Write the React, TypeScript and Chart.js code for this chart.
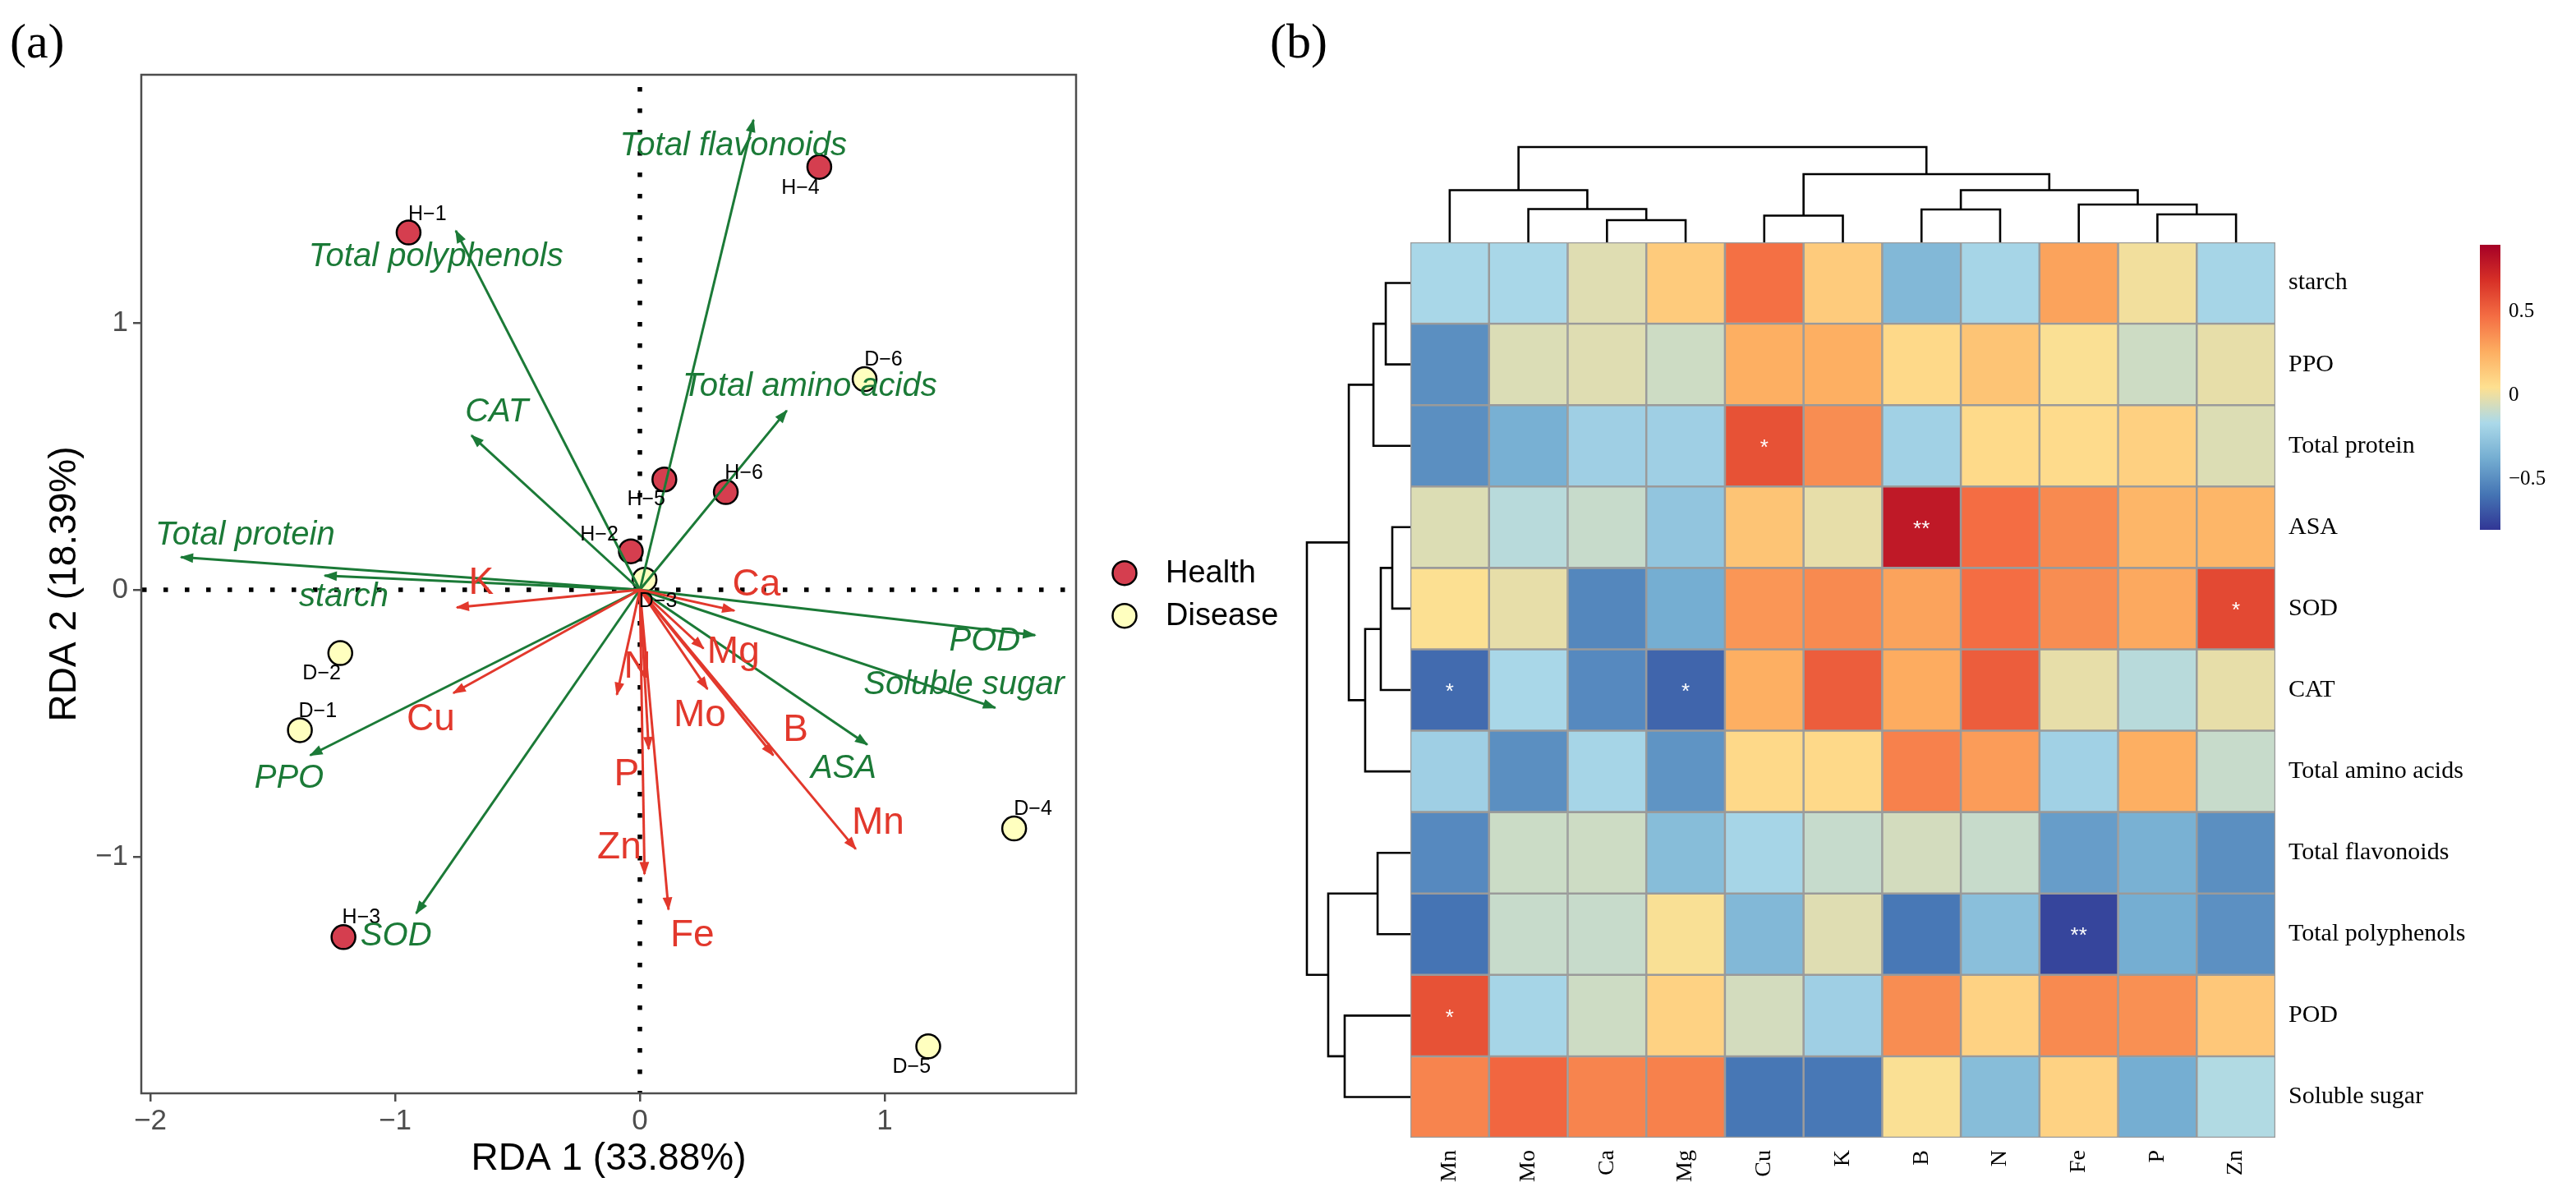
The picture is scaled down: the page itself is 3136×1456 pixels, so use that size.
import React, { useEffect, useRef } from 'react';
import { Chart, registerables } from 'chart.js';

Chart.register(...registerables);

// ---------------- Panel (a): RDA biplot ----------------
const rdaXRange = [-2.037, 1.782];
const rdaYRange = [-1.886, 1.929];
const rdaXTicks = [-2, -1, 0, 1];
const rdaYTicks = [-1, 0, 1];
const rdaXTitle = 'RDA 1 (33.88%)';
const rdaYTitle = 'RDA 2 (18.39%)';

const healthNames = ['H−1', 'H−2', 'H−3', 'H−4', 'H−5', 'H−6'];
const healthX = [-0.945, -0.037, -1.211, 0.733, 0.1, 0.351];
const healthY = [1.338, 0.144, -1.301, 1.584, 0.413, 0.366];
const healthLabelX = [-0.868, -0.166, -1.138, 0.656, 0.026, 0.425];
const healthLabelY = [1.407, 0.207, -1.228, 1.503, 0.337, 0.438];

const diseaseNames = ['D−1', 'D−2', 'D−3', 'D−4', 'D−5', 'D−6'];
const diseaseX = [-1.389, -1.224, 0.019, 1.529, 1.178, 0.918];
const diseaseY = [-0.526, -0.237, 0.038, -0.894, -1.71, 0.789];
const diseaseLabelX = [-1.316, -1.3, 0.074, 1.606, 1.11, 0.995];
const diseaseLabelY = [-0.455, -0.313, -0.043, -0.823, -1.789, 0.862];

const qualityNames = ['Total flavonoids', 'Total polyphenols', 'Total amino acids', 'CAT', 'Total protein', 'starch', 'PPO', 'SOD', 'POD', 'Soluble sugar', 'ASA'];
const qualityX = [0.464, -0.752, 0.6, -0.688, -1.875, -1.288, -1.347, -0.914, 1.615, 1.452, 0.929];
const qualityY = [1.76, 1.345, 0.671, 0.578, 0.122, 0.053, -0.62, -1.212, -0.17, -0.442, -0.58];
const qualityLabelX = [0.382, -0.833, 0.694, -0.585, -1.613, -1.21, -1.433, -0.996, 1.409, 1.324, 0.832];
const qualityLabelY = [1.661, 1.246, 0.759, 0.664, 0.204, -0.028, -0.708, -1.297, -0.194, -0.357, -0.669];

const elementNames = ['K', 'Ca', 'Cu', 'N', 'Mg', 'Mo', 'B', 'Mn', 'P', 'Zn', 'Fe'];
const elementX = [-0.748, 0.386, -0.762, -0.094, 0.26, 0.276, 0.545, 0.882, 0.036, 0.019, 0.117];
const elementY = [-0.066, -0.078, -0.387, -0.393, -0.22, -0.372, -0.62, -0.971, -0.597, -1.065, -1.198];
const elementLabelX = [-0.648, 0.476, -0.854, -0.01, 0.382, 0.245, 0.636, 0.973, -0.054, -0.084, 0.214];
const elementLabelY = [0.024, 0.016, -0.486, -0.29, -0.234, -0.471, -0.526, -0.876, -0.694, -0.968, -1.297];

const groupNames = ['Health', 'Disease'];

// ---------------- Panel (b): correlation heatmap ----------------
const heatCols = ['Mn', 'Mo', 'Ca', 'Mg', 'Cu', 'K', 'B', 'N', 'Fe', 'P', 'Zn'];
const heatRows = ['starch', 'PPO', 'Total protein', 'ASA', 'SOD', 'CAT', 'Total amino acids', 'Total flavonoids', 'Total polyphenols', 'POD', 'Soluble sugar'];

const corStarch = [-0.17, -0.17, -0.03, 0.14, 0.465, 0.14, -0.32, -0.18, 0.3, 0.02, -0.18];
const corPPO = [-0.49, -0.04, -0.03, -0.075, 0.26, 0.26, 0.08, 0.17, 0.04, -0.075, -0.01];
const corTotalProtein = [-0.49, -0.36, -0.21, -0.21, 0.57, 0.37, -0.2, 0.075, 0.07, 0.12, -0.037];
const corASA = [-0.037, -0.13, -0.09, -0.26, 0.17, -0.01, 0.79, 0.475, 0.38, 0.23, 0.23];
const corSOD = [0.045, -0.01, -0.52, -0.37, 0.34, 0.38, 0.3, 0.475, 0.37, 0.28, 0.6];
const corCAT = [-0.62, -0.17, -0.51, -0.64, 0.26, 0.53, 0.27, 0.53, -0.01, -0.13, -0.01];
const corAminoAcids = [-0.21, -0.49, -0.18, -0.47, 0.08, 0.08, 0.41, 0.32, -0.2, 0.26, -0.09];
const corFlavonoids = [-0.51, -0.08, -0.075, -0.3, -0.18, -0.094, -0.06, -0.09, -0.435, -0.355, -0.49];
const corPolyphenols = [-0.59, -0.09, -0.09, 0.037, -0.32, -0.03, -0.575, -0.29, -0.75, -0.37, -0.485];
const corPOD = [0.57, -0.18, -0.075, 0.11, -0.06, -0.21, 0.37, 0.11, 0.38, 0.36, 0.155];
const corSolubleSugar = [0.4, 0.5, 0.4, 0.41, -0.58, -0.575, 0.04, -0.3, 0.11, -0.37, -0.147];
const heatValues = [corStarch, corPPO, corTotalProtein, corASA, corSOD, corCAT, corAminoAcids, corFlavonoids, corPolyphenols, corPOD, corSolubleSugar];

const sigRows = ['Total protein', 'ASA', 'SOD', 'CAT', 'CAT', 'Total polyphenols', 'POD'];
const sigCols = ['Cu', 'B', 'Zn', 'Mn', 'Mg', 'Fe', 'Mn'];
const sigMarks = ['*', '**', '*', '*', '*', '**', '*'];

// hclust-style merges (negative = leaf index+1, positive = earlier merge number)
const colMergeA = [-3, -10, -5, -7, -2, -9, -1, 4, 3, 7];
const colMergeB = [-4, -11, -6, -8, 1, 2, 5, 6, 8, 9];
const colMergeHeight = [0.233, 0.293, 0.28, 0.345, 0.349, 0.397, 0.547, 0.547, 0.716, 1.0];
const rowMergeA = [-1, -4, -8, 1, 2, -10, 5, 4, 3, 8];
const rowMergeB = [-2, -5, -9, -3, -6, -11, -7, 7, 6, 9];
const rowMergeHeight = [0.238, 0.175, 0.317, 0.357, 0.286, 0.635, 0.437, 0.595, 0.794, 1.0];

const colorMin = -0.8;
const colorMax = 0.9;
const colorbarTicks = [0.5, 0, -0.5];

// ---------------- styles ----------------
const SANS = '"Liberation Sans", Arial, Helvetica, sans-serif';
const SERIF = '"Liberation Serif", "Times New Roman", Times, serif';
const GREEN = '#1B7A37';
const RED = '#E2382C';
const HEALTH_FILL = '#D53E4F';
const DISEASE_FILL = '#FFFFBF';
const palette = ['#313695', '#4575B4', '#74ADD1', '#ABD9E9', '#FEE090', '#FDAE61', '#F46D43', '#D73027', '#A50026'];

const fmt = (v: number) => (v < 0 ? '−' + Math.abs(v) : String(v));

function hexToRgb(h: string) {
  const n = parseInt(h.slice(1), 16);
  return [(n >> 16) & 255, (n >> 8) & 255, n & 255];
}
function valueToColor(v: number) {
  const n = palette.length - 1;
  let t = ((v - colorMin) / (colorMax - colorMin)) * n;
  t = Math.max(0, Math.min(n, t));
  const i = Math.min(n - 1, Math.floor(t));
  const f = t - i;
  const a = hexToRgb(palette[i]);
  const b = hexToRgb(palette[i + 1]);
  const c = a.map((x, k) => Math.round(x + (b[k] - x) * f));
  return `rgb(${c[0]},${c[1]},${c[2]})`;
}

// ---------------- plugins ----------------
const rdaPlugin = {
  id: 'rdaDecor',
  beforeDatasetsDraw(chart: any) {
    const { ctx, chartArea: a, scales } = chart;
    const x0 = scales.x.getPixelForValue(0);
    const y0 = scales.y.getPixelForValue(0);
    ctx.save();
    ctx.beginPath();
    ctx.rect(a.left, a.top, a.right - a.left, a.bottom - a.top);
    ctx.clip();
    ctx.strokeStyle = '#000';
    ctx.lineWidth = 5.5;
    ctx.setLineDash([5.5, 20.5]);
    ctx.beginPath();
    ctx.moveTo(x0, a.top + 15);
    ctx.lineTo(x0, a.bottom);
    ctx.stroke();
    ctx.beginPath();
    ctx.moveTo(a.left + 1, y0);
    ctx.lineTo(a.right, y0);
    ctx.stroke();
    ctx.restore();
  },
  afterDatasetsDraw(chart: any) {
    const { ctx, scales } = chart;
    const X = (v: number) => scales.x.getPixelForValue(v);
    const Y = (v: number) => scales.y.getPixelForValue(v);
    ctx.save();
    chart.data.datasets.forEach((ds: any, i: number) => {
      if (!ds.isArrow) return;
      const meta = chart.getDatasetMeta(i);
      const p0 = meta.data[0];
      const p1 = meta.data[1];
      const ang = Math.atan2(p1.y - p0.y, p1.x - p0.x);
      const L = 16;
      const W = 0.38;
      ctx.fillStyle = ds.borderColor;
      ctx.beginPath();
      ctx.moveTo(p1.x + 1.5 * Math.cos(ang), p1.y + 1.5 * Math.sin(ang));
      ctx.lineTo(p1.x - L * Math.cos(ang - W), p1.y - L * Math.sin(ang - W));
      ctx.lineTo(p1.x - L * Math.cos(ang + W), p1.y - L * Math.sin(ang + W));
      ctx.closePath();
      ctx.fill();
    });
    ctx.textAlign = 'center';
    ctx.textBaseline = 'middle';
    ctx.fillStyle = '#000';
    ctx.font = `25px ${SANS}`;
    healthNames.forEach((n, i) => ctx.fillText(n, X(healthLabelX[i]), Y(healthLabelY[i])));
    diseaseNames.forEach((n, i) => ctx.fillText(n, X(diseaseLabelX[i]), Y(diseaseLabelY[i])));
    ctx.fillStyle = GREEN;
    ctx.font = `italic 40px ${SANS}`;
    qualityNames.forEach((n, i) => ctx.fillText(n, X(qualityLabelX[i]), Y(qualityLabelY[i])));
    ctx.fillStyle = RED;
    ctx.font = `46px ${SANS}`;
    elementNames.forEach((n, i) => ctx.fillText(n, X(elementLabelX[i]), Y(elementLabelY[i])));
    ctx.restore();
  },
  afterDraw(chart: any) {
    const { ctx, chartArea: a } = chart;
    ctx.save();
    ctx.strokeStyle = '#4D4D4D';
    ctx.lineWidth = 2.5;
    ctx.strokeRect(a.left, a.top, a.right - a.left, a.bottom - a.top);
    // legend
    const lx = a.right + 59;
    const ly = (a.top + a.bottom) / 2 + 12.7;
    const fills = [HEALTH_FILL, DISEASE_FILL];
    groupNames.forEach((g, i) => {
      const cy = ly + (i === 0 ? -26 : 26);
      ctx.beginPath();
      ctx.arc(lx, cy, 14.5, 0, Math.PI * 2);
      ctx.fillStyle = fills[i];
      ctx.fill();
      ctx.lineWidth = 2.5;
      ctx.strokeStyle = '#000';
      ctx.stroke();
      ctx.fillStyle = '#000';
      ctx.font = `38px ${SANS}`;
      ctx.textAlign = 'left';
      ctx.textBaseline = 'middle';
      ctx.fillText(g, lx + 50, cy + 1);
    });
    ctx.restore();
  },
};

function drawTree(ctx: any, A: number[], B: number[], H: number[], leafPos: (i: number) => number, hPx: (h: number) => number, vertical: boolean) {
  const pos: number[] = [];
  const hts: number[] = [];
  const get = (c: number) => (c < 0 ? { p: leafPos(-c - 1), h: 0 } : { p: pos[c - 1], h: hts[c - 1] });
  ctx.beginPath();
  for (let k = 0; k < A.length; k++) {
    const a = get(A[k]);
    const b = get(B[k]);
    const h = H[k];
    pos[k] = (a.p + b.p) / 2;
    hts[k] = h;
    if (vertical) {
      ctx.moveTo(a.p, hPx(a.h));
      ctx.lineTo(a.p, hPx(h));
      ctx.lineTo(b.p, hPx(h));
      ctx.lineTo(b.p, hPx(b.h));
    } else {
      ctx.moveTo(hPx(a.h), a.p);
      ctx.lineTo(hPx(h), a.p);
      ctx.lineTo(hPx(h), b.p);
      ctx.lineTo(hPx(b.h), b.p);
    }
  }
  ctx.stroke();
}

const heatPlugin = {
  id: 'heatDecor',
  afterDraw(chart: any) {
    const { ctx, chartArea: a, scales } = chart;
    const xs = scales.x;
    const ys = scales.y;
    ctx.save();
    // significance marks
    ctx.fillStyle = '#fff';
    ctx.font = `26px ${SANS}`;
    ctx.textAlign = 'center';
    ctx.textBaseline = 'middle';
    sigMarks.forEach((m, i) => {
      const c = heatCols.indexOf(sigCols[i]);
      const r = heatRows.indexOf(sigRows[i]);
      ctx.fillText(m, xs.getPixelForValue(c), ys.getPixelForValue(r + 0.5) + 3);
    });
    // dendrograms
    ctx.strokeStyle = '#000';
    ctx.lineWidth = 2.6;
    ctx.lineJoin = 'miter';
    const colTree = 116;
    const rowTree = 126;
    drawTree(ctx, colMergeA, colMergeB, colMergeHeight, (i) => xs.getPixelForValue(i), (h) => a.top - h * colTree, true);
    drawTree(ctx, rowMergeA, rowMergeB, rowMergeHeight, (i) => ys.getPixelForValue(i + 0.5), (h) => a.left - h * rowTree, false);
    // colour bar
    const cbX = a.right + 249;
    const cbY = a.top + 3;
    const cbW = 25;
    const cbH = 347;
    const grad = ctx.createLinearGradient(0, cbY + cbH, 0, cbY);
    palette.forEach((c, k) => grad.addColorStop(k / (palette.length - 1), c));
    ctx.fillStyle = grad;
    ctx.fillRect(cbX, cbY, cbW, cbH);
    ctx.fillStyle = '#000';
    ctx.font = `25px ${SERIF}`;
    ctx.textAlign = 'left';
    ctx.textBaseline = 'middle';
    colorbarTicks.forEach((v) => {
      const y = cbY + cbH - ((v - colorMin) / (colorMax - colorMin)) * cbH;
      ctx.fillText(fmt(v), cbX + cbW + 10, y);
    });
    ctx.restore();
  },
};

export default function App() {
  const refA = useRef<HTMLCanvasElement>(null);
  const refB = useRef<HTMLCanvasElement>(null);

  useEffect(() => {
    const pointDs = (label: string, xs: number[], ys: number[], fill: string) => ({
      label,
      data: xs.map((x, i) => ({ x, y: ys[i] })),
      pointRadius: 14.5,
      pointHoverRadius: 14.5,
      pointBackgroundColor: fill,
      pointBorderColor: '#000',
      pointBorderWidth: 2.5,
      showLine: false,
      order: 3,
    });
    const arrowDs = (label: string, x: number, y: number, color: string, order: number) => ({
      label,
      isArrow: true,
      data: [{ x: 0, y: 0 }, { x, y }],
      showLine: true,
      borderColor: color,
      borderWidth: 3,
      pointRadius: 0,
      pointHoverRadius: 0,
      order,
    });
    const datasetsA: any[] = [
      pointDs('Health', healthX, healthY, HEALTH_FILL),
      pointDs('Disease', diseaseX, diseaseY, DISEASE_FILL),
      ...qualityNames.map((n, i) => arrowDs(n, qualityX[i], qualityY[i], GREEN, 2)),
      ...elementNames.map((n, i) => arrowDs(n, elementX[i], elementY[i], RED, 1)),
    ];

    const tickFont = { family: SANS, size: 35 };
    const titleFont = { family: SANS, size: 46 };

    const chartA = new Chart(refA.current as HTMLCanvasElement, {
      type: 'scatter',
      data: { datasets: datasetsA },
      options: {
        animation: false,
        responsive: false,
        events: [],
        layout: { padding: { left: 0, top: 91, right: 310, bottom: 0 } },
        plugins: { legend: { display: false }, tooltip: { enabled: false } },
        scales: {
          x: {
            type: 'linear',
            min: rdaXRange[0],
            max: rdaXRange[1],
            afterBuildTicks: (ax: any) => {
              ax.ticks = rdaXTicks.map((v) => ({ value: v }));
            },
            afterFit: (s: any) => {
              s.height = 125;
            },
            grid: { drawOnChartArea: false, drawTicks: true, tickLength: 10, color: '#4D4D4D', lineWidth: 2.5 },
            border: { display: false },
            ticks: { font: tickFont, color: '#4D4D4D', padding: 3, autoSkip: false, callback: (v: any) => fmt(Number(v)) },
            title: { display: true, text: rdaXTitle, font: titleFont, color: '#000', padding: { top: 0, bottom: 17 } },
          },
          y: {
            type: 'linear',
            position: 'left',
            min: rdaYRange[0],
            max: rdaYRange[1],
            afterBuildTicks: (ax: any) => {
              ax.ticks = rdaYTicks.map((v) => ({ value: v }));
            },
            afterFit: (s: any) => {
              s.width = 172;
            },
            grid: { drawOnChartArea: false, drawTicks: true, tickLength: 10, color: '#4D4D4D', lineWidth: 2.5 },
            border: { display: false },
            ticks: { font: tickFont, color: '#4D4D4D', padding: 6, autoSkip: false, callback: (v: any) => fmt(Number(v)) },
            title: { display: true, text: rdaYTitle, font: titleFont, color: '#000', padding: { top: 52, bottom: 0 } },
          },
        },
      } as any,
      plugins: [rdaPlugin],
    });

    const datasetsB: any[] = heatRows.map((row, r) => ({
      label: row,
      data: heatCols.map(() => [r, r + 1]),
      backgroundColor: heatValues[r].map(valueToColor),
      borderColor: '#9A9A9A',
      borderWidth: 1.6,
      borderSkipped: false,
      barPercentage: 1,
      categoryPercentage: 1,
      grouped: false,
    }));

    const chartB = new Chart(refB.current as HTMLCanvasElement, {
      type: 'bar',
      data: { labels: heatCols, datasets: datasetsB },
      options: {
        animation: false,
        responsive: false,
        events: [],
        layout: { padding: { left: 217, top: 295, right: 0, bottom: 0 } },
        plugins: { legend: { display: false }, tooltip: { enabled: false } },
        scales: {
          x: {
            type: 'category',
            position: 'bottom',
            grid: { display: false },
            border: { display: false },
            ticks: { font: { family: SERIF, size: 28 }, color: '#000', minRotation: 90, maxRotation: 90, autoSkip: false, padding: 7 },
            afterFit: (s: any) => {
              s.height = 71;
            },
          },
          y: {
            type: 'linear',
            position: 'right',
            min: 0,
            max: heatRows.length,
            reverse: true,
            grid: { display: false },
            border: { display: false },
            afterBuildTicks: (ax: any) => {
              ax.ticks = heatRows.map((_, i) => ({ value: i + 0.5 }));
            },
            ticks: {
              font: { family: SERIF, size: 30 },
              color: '#000',
              padding: 8,
              autoSkip: false,
              callback: (v: any) => heatRows[Math.floor(Number(v))],
            },
            afterFit: (s: any) => {
              s.width = 366;
            },
          },
        },
      } as any,
      plugins: [heatPlugin],
    });

    return () => {
      chartA.destroy();
      chartB.destroy();
    };
  }, []);

  const panelLabel: React.CSSProperties = {
    position: 'absolute',
    top: 20,
    fontFamily: SERIF,
    fontSize: 60,
    lineHeight: '60px',
    color: '#000',
  };

  return (
    <div style={{ position: 'absolute', left: 0, top: 0, width: 3136, height: 1456, background: '#fff', overflow: 'hidden' }}>
      <canvas ref={refA} width={1620} height={1456} style={{ position: 'absolute', left: 0, top: 0, width: 1620, height: 1456 }} />
      <canvas ref={refB} width={1636} height={1456} style={{ position: 'absolute', left: 1500, top: 0, width: 1636, height: 1456 }} />
      <div style={{ ...panelLabel, left: 12 }}>(a)</div>
      <div style={{ ...panelLabel, left: 1546 }}>(b)</div>
    </div>
  );
}
